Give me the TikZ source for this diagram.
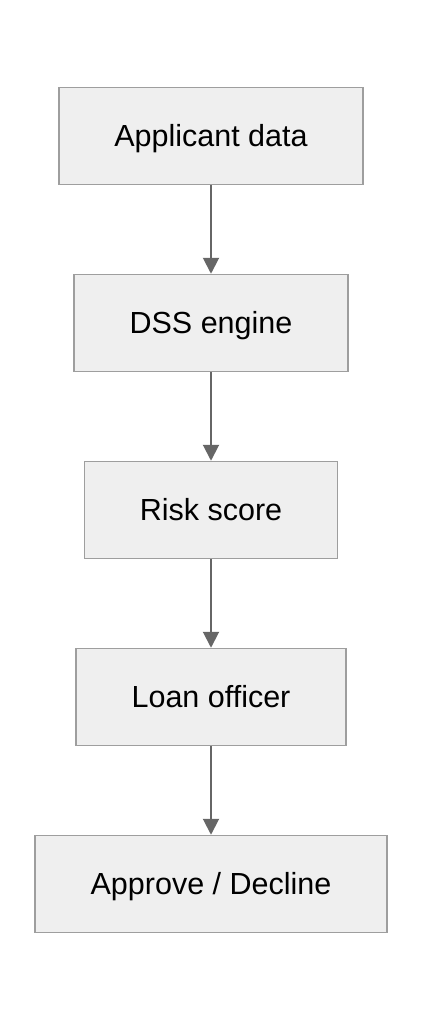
\documentclass[tikz,border=0pt]{standalone}
\usepackage{fontspec}
\setmainfont{Liberation Sans}
\usetikzlibrary{positioning,arrows.meta}
\definecolor{boxfill}{HTML}{EFEFEF}
\definecolor{boxline}{HTML}{9E9E9E}
\definecolor{flowline}{HTML}{666666}
\begin{document}
\begin{tikzpicture}[x=1pt, y=1pt]
    % Define styles
    \tikzset{
        stage/.style={
            draw=boxline,
            fill=boxfill,
            line width=1.5pt,
            minimum height=97pt,
            inner xsep=55.5pt,
            text height=23pt,
            text depth=3pt,
            font=\fontsize{30.5}{36}\selectfont
        },
        flow/.style={
            draw=flowline,
            line width=2pt,
            -{Triangle[width=16pt,length=16pt]}
        }
    }

    % Canvas
    \useasboundingbox (0,0) rectangle (422,-1020);

    % Pipeline stages
    \node[stage] (applicant) at (211,-136) {Applicant data};
    \node[stage, below=88.5pt of applicant] (engine) {DSS engine};
    \node[stage, below=88.5pt of engine] (risk) {Risk score};
    \node[stage, below=88.5pt of risk] (officer) {Loan officer};
    \node[stage, below=88.5pt of officer] (decision) {Approve / Decline};

    % Connectors
    \draw[flow] (applicant) -- (engine);
    \draw[flow] (engine) -- (risk);
    \draw[flow] (risk) -- (officer);
    \draw[flow] (officer) -- (decision);

\end{tikzpicture}
\end{document}
